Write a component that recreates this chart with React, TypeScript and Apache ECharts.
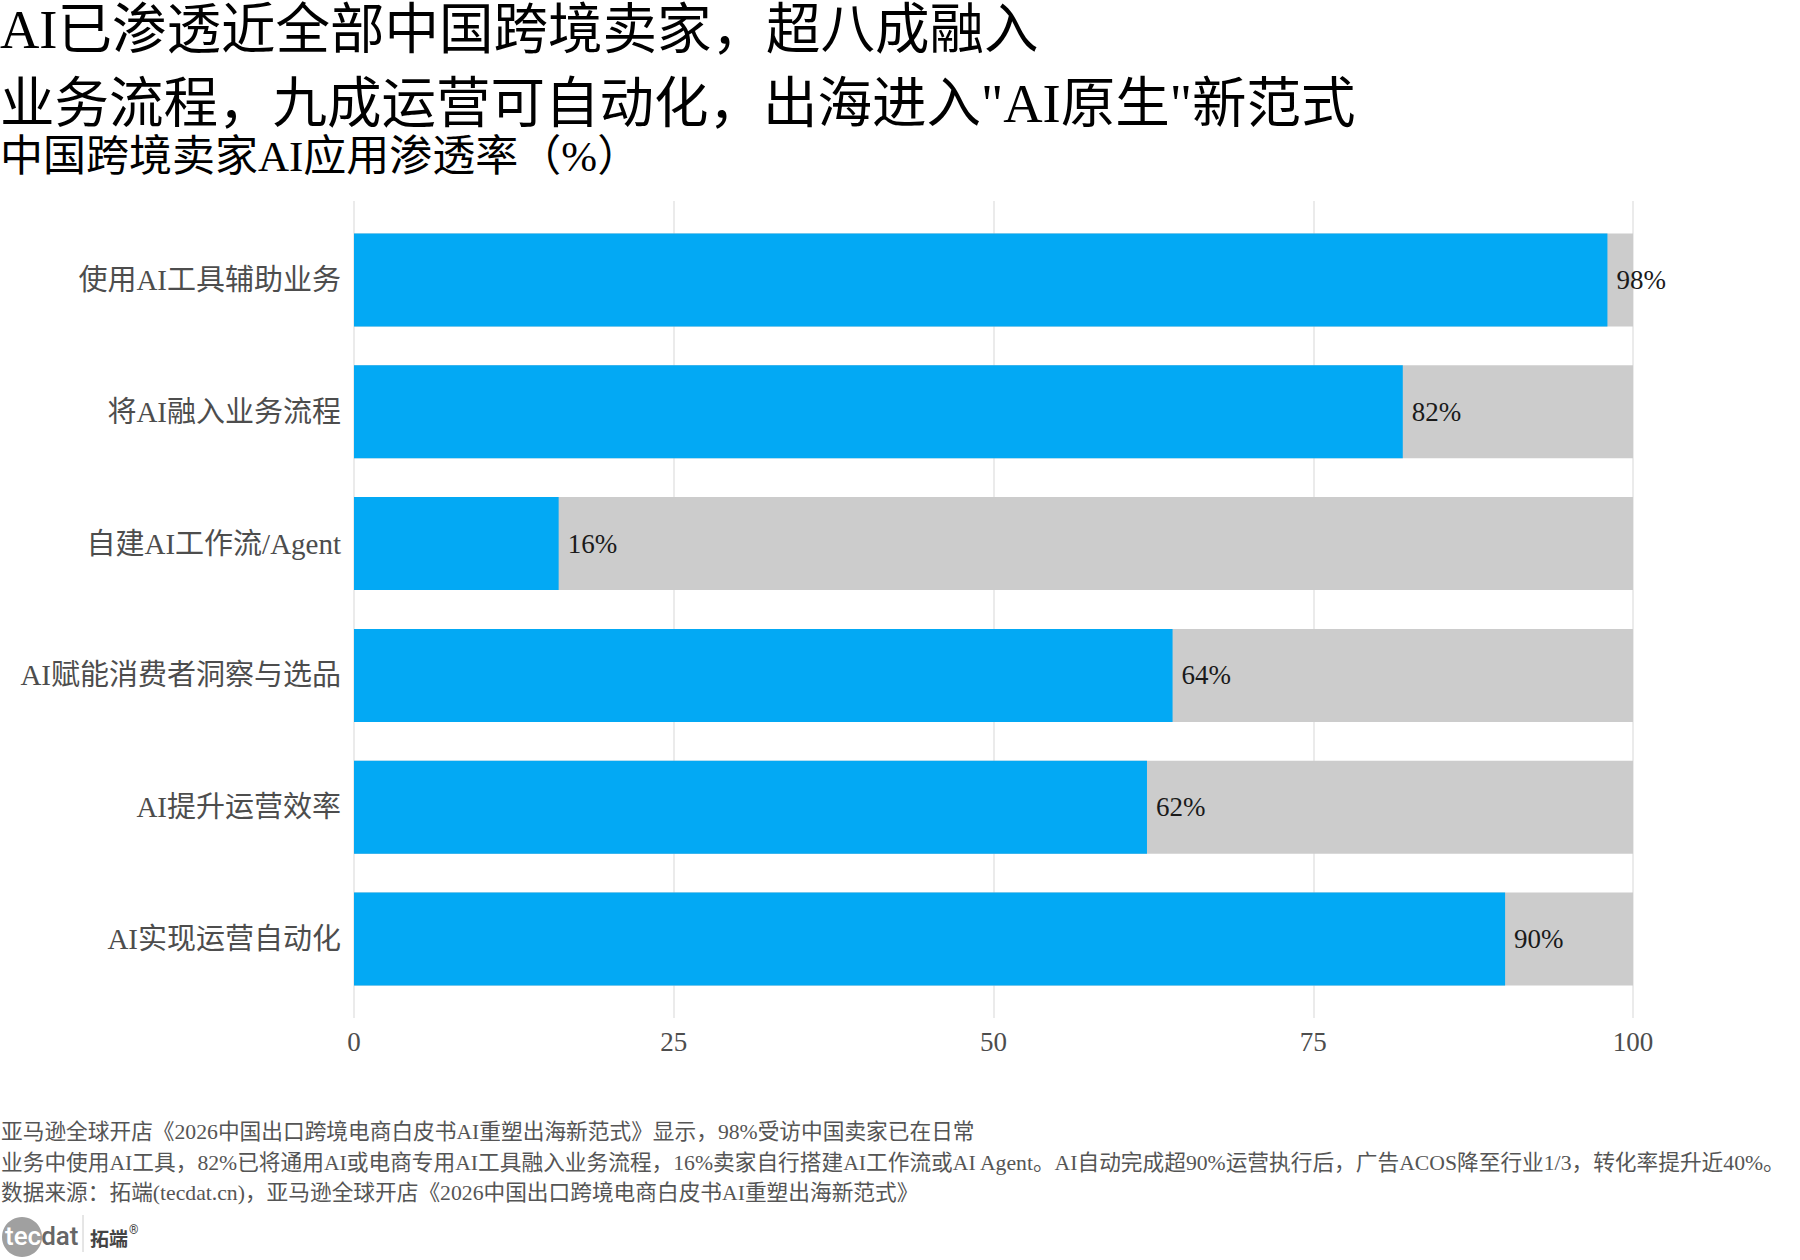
import React, { useEffect, useRef } from "react";
import * as echarts from "echarts";

// Survey categories, top to bottom
const categories: string[] = [
  "使用AI工具辅助业务",
  "将AI融入业务流程",
  "自建AI工作流/Agent",
  "AI赋能消费者洞察与选品",
  "AI提升运营效率",
  "AI实现运营自动化",
];

// Penetration rate (%) per category
const penetration: number[] = [98, 82, 16, 64, 62, 90];

// Value-axis tick settings
const axisMin = 0;
const axisMax = 100;
const axisStep = 25;

const titleLines: string[] = [
  "AI已渗透近全部中国跨境卖家，超八成融入",
  '业务流程，九成运营可自动化，出海进入"AI原生"新范式',
];
const subtitle = "中国跨境卖家AI应用渗透率（%）";

const footerLines: string[] = [
  "亚马逊全球开店《2026中国出口跨境电商白皮书AI重塑出海新范式》显示，98%受访中国卖家已在日常",
  "业务中使用AI工具，82%已将通用AI或电商专用AI工具融入业务流程，16%卖家自行搭建AI工作流或AI Agent。AI自动完成超90%运营执行后，广告ACOS降至行业1/3，转化率提升近40%。",
  "数据来源：拓端(tecdat.cn)，亚马逊全球开店《2026中国出口跨境电商白皮书AI重塑出海新范式》",
];

const FONT = "'Liberation Serif', 'Noto Sans CJK SC', serif";
const BLUE = "#03A9F4";
const TRACK = "#cccccc";

export default function App() {
  const ref = useRef<HTMLDivElement>(null);

  useEffect(() => {
    if (!ref.current) return;
    const chart = echarts.init(ref.current, undefined, { renderer: "svg" });

    const plotLeft = 354;
    const plotRight = 167;
    const panelTop = 201;
    const panelBottom = 242;
    // discrete axis padded by 0.6 of a step on each end
    const panelHeight = 1260 - panelTop - panelBottom;
    const step = panelHeight / (categories.length - 1 + 1.2);
    const barGridTop = panelTop + 0.1 * step;
    const barGridHeight = step * categories.length;

    const text = (
      x: number,
      y: number,
      t: string,
      size: number,
      fill: string,
      extra: any = {}
    ) => ({
      type: "text",
      x,
      y,
      silent: true,
      style: {
        text: t,
        fill,
        font: `${extra.weight || "normal"} ${size}px ${extra.family || FONT}`,
        align: "left",
        verticalAlign: "middle",
      },
    });

    chart.setOption({
      animation: false,
      backgroundColor: "#ffffff",
      textStyle: { fontFamily: FONT },
      grid: [
        { left: plotLeft, right: plotRight, top: panelTop, bottom: panelBottom },
        { left: plotLeft, right: plotRight, top: barGridTop, height: barGridHeight },
      ],
      xAxis: [
        {
          gridIndex: 0,
          type: "value",
          min: axisMin,
          max: axisMax,
          interval: axisStep,
          axisLine: { show: false },
          axisTick: { show: false },
          splitLine: { show: true, lineStyle: { color: "#ebebeb", width: 2 } },
          axisLabel: { fontSize: 27, color: "#4d4d4d", margin: 10, fontFamily: FONT },
        },
        {
          gridIndex: 1,
          type: "value",
          min: axisMin,
          max: axisMax,
          show: false,
        },
      ],
      yAxis: [
        { gridIndex: 0, type: "value", show: false, min: 0, max: 1 },
        {
          gridIndex: 1,
          type: "category",
          inverse: true,
          data: categories,
          axisLine: { show: false },
          axisTick: { show: false },
          splitLine: { show: false },
          axisLabel: { fontSize: 29, color: "#4d4d4d", margin: 13, fontFamily: FONT },
        },
      ],
      series: [
        {
          type: "bar",
          xAxisIndex: 1,
          yAxisIndex: 1,
          data: penetration,
          barWidth: 93,
          showBackground: true,
          backgroundStyle: { color: TRACK },
          itemStyle: { color: BLUE },
          label: {
            show: true,
            position: "right",
            distance: 9,
            formatter: "{c}%",
            fontSize: 27,
            color: "#1a1a1a",
            fontFamily: FONT,
          },
        },
      ],
      graphic: [
        text(0, 29, titleLines[0], 54.5, "#000000"),
        text(0, 103, titleLines[1], 54.5, "#000000"),
        text(0, 156, subtitle, 43, "#000000"),
        text(1, 1132, footerLines[0], 21.7, "#555555"),
        text(1, 1163, footerLines[1], 21.7, "#555555"),
        text(1, 1193, footerLines[2], 21.7, "#555555"),
        {
          type: "circle",
          silent: true,
          shape: { cx: 22, cy: 1237, r: 20 },
          style: { fill: "#a0a0a0" },
        },
        {
          type: "text",
          x: 5,
          y: 1236,
          silent: true,
          style: {
            text: "{a|tec}{b|dat}",
            verticalAlign: "middle",
            align: "left",
            rich: {
              a: { fill: "#ffffff", fontSize: 26, fontFamily: "Roboto", fontWeight: 500 },
              b: { fill: "#666666", fontSize: 26, fontFamily: "Roboto", fontWeight: 500 },
            },
          },
        },
        {
          type: "line",
          silent: true,
          shape: { x1: 83, y1: 1215, x2: 83, y2: 1252 },
          style: { stroke: "#cccccc", lineWidth: 1 },
        },
        text(90, 1237, "拓端", 19, "#444444", { weight: "bold", family: "'Noto Sans CJK SC'" }),
        text(129, 1230, "®", 12, "#444444", { family: "Roboto" }),
      ],
    });

    return () => chart.dispose();
  }, []);

  return (
    <div
      ref={ref}
      style={{ position: "fixed", left: 0, top: 0, width: 1800, height: 1260, background: "#fff" }}
    />
  );
}
